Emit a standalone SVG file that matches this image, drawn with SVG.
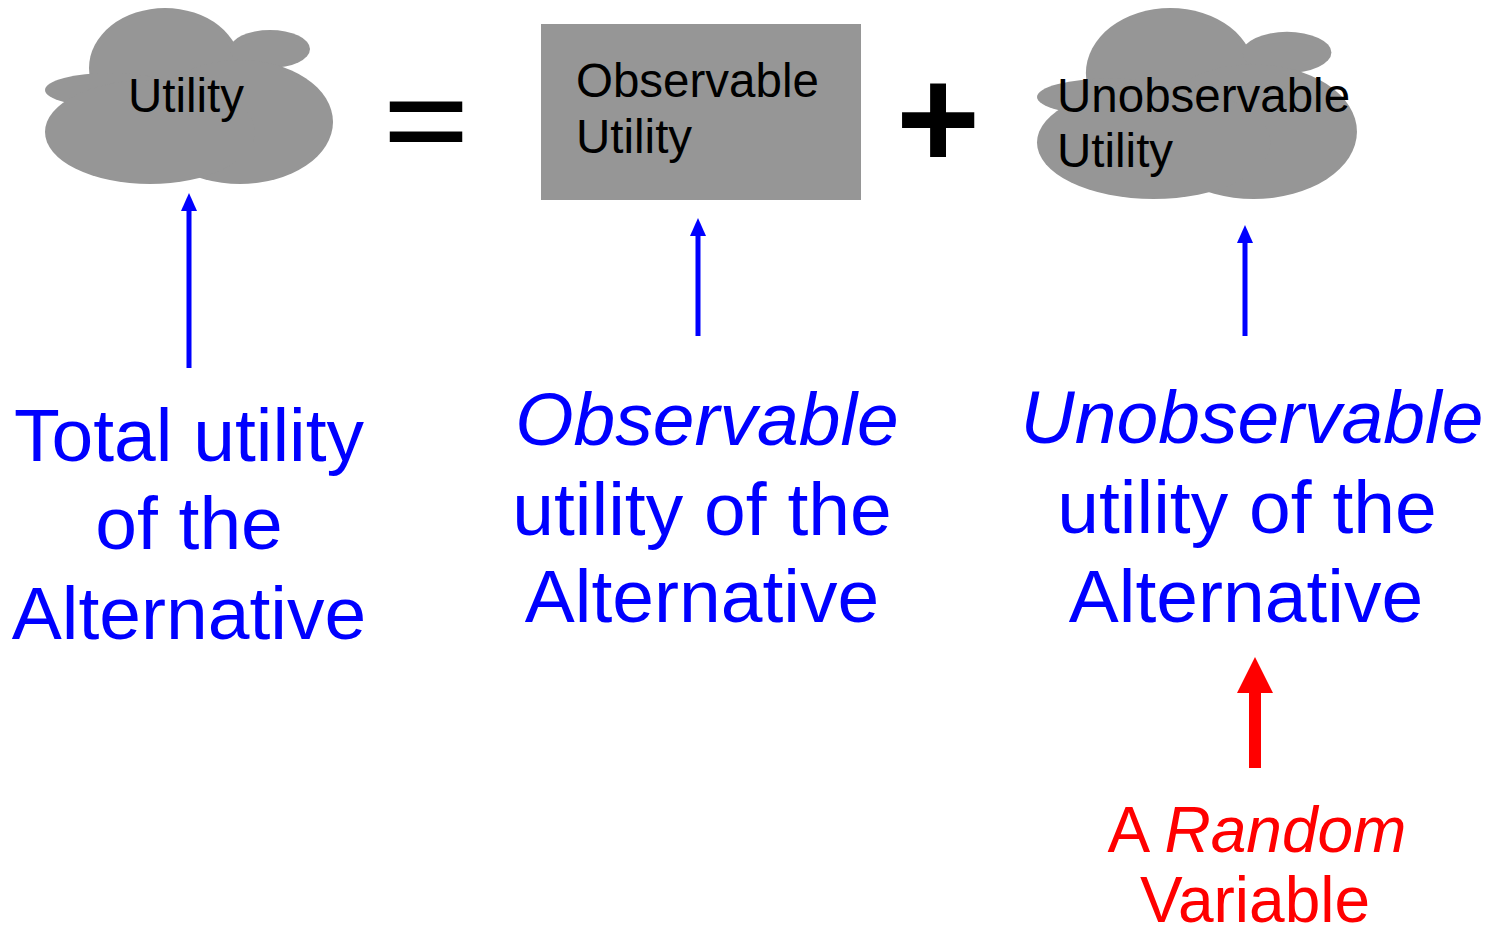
<svg xmlns="http://www.w3.org/2000/svg" width="1489" height="929" viewBox="0 0 1489 929">
  <style>
    text { font-family: "Liberation Sans", Arial, sans-serif; }
    .cloud { fill: #969696; }
    .box { fill: #969696; }
    .node-text { font-size: 47.5px; fill: #000000; }
    .op { font-size: 144px; fill: #000000; text-anchor: middle; }
    .bold { font-weight: bold; }
    .eq { stroke: #000000; stroke-width: 2.5; }
    .blue { font-size: 75px; fill: #0000ff; text-anchor: middle; }
    .red { font-size: 64px; fill: #ff0000; text-anchor: middle; }
    .it { font-style: italic; }
    .blue-line { stroke: #0000ff; stroke-width: 5; fill: none; }
    .red-line { stroke: #ff0000; stroke-width: 12; fill: none; }
  </style>
  <defs>
    <!-- cloud outline built from overlapping ellipses -->
    <g id="cloud-shape" class="cloud">
      <ellipse cx="165" cy="68" rx="76" ry="60"/>
      <ellipse cx="270" cy="49" rx="40" ry="19"/>
      <ellipse cx="240" cy="122" rx="93" ry="62"/>
      <ellipse cx="110" cy="90" rx="65" ry="17"/>
      <ellipse cx="150" cy="132" rx="105" ry="52"/>
    </g>
    <marker id="head-blue" viewBox="0 0 18 16" refX="0" refY="8" markerWidth="18" markerHeight="16" markerUnits="userSpaceOnUse" orient="auto">
      <path d="M0,0 L18,8 L0,16 z" fill="#0000ff"/>
    </marker>
    <marker id="head-red" viewBox="0 0 36 36" refX="0" refY="18" markerWidth="36" markerHeight="36" markerUnits="userSpaceOnUse" orient="auto">
      <path d="M0,0 L36,18 L0,36 z" fill="#ff0000"/>
    </marker>
  </defs>

  <!-- total utility cloud -->
  <g id="node-utility">
    <use href="#cloud-shape"/>
    <text class="node-text" x="186" y="112" text-anchor="middle">Utility</text>
  </g>

  <g id="op-equals">
    <text class="op eq" transform="translate(426,121.5) scale(1,0.82)" x="0" y="48">=</text>
  </g>

  <!-- observable part -->
  <g id="node-observable">
    <rect class="box" x="541" y="24" width="320" height="176"/>
    <text class="node-text" x="576" y="97">Observable</text>
    <text class="node-text" x="576" y="153">Utility</text>
  </g>

  <g id="op-plus">
    <text class="op bold" x="938" y="168">+</text>
  </g>

  <!-- unobservable part -->
  <g id="node-unobservable">
    <use href="#cloud-shape" transform="translate(987,-0.68) scale(1.111,1.085)"/>
    <text class="node-text" x="1057" y="112">Unobservable</text>
    <text class="node-text" x="1057" y="167">Utility</text>
  </g>

  <!-- explanatory labels -->
  <g id="label-total">
    <text class="blue" x="189" y="461">Total utility</text>
    <text class="blue" x="189" y="549">of the</text>
    <text class="blue" x="189" y="639">Alternative</text>
  </g>
  <g id="label-observable">
    <text class="blue it" x="707" y="445">Observable</text>
    <text class="blue" x="702" y="535">utility of the</text>
    <text class="blue" x="702" y="622">Alternative</text>
  </g>
  <g id="label-unobservable">
    <text class="blue it" x="1252" y="443">Unobservable</text>
    <text class="blue" x="1247" y="533">utility of the</text>
    <text class="blue" x="1246" y="622">Alternative</text>
  </g>
  <g id="label-random">
    <text class="red" x="1257" y="852">A <tspan class="it">Random</tspan></text>
    <text class="red" x="1255" y="922">Variable</text>
  </g>

  <!-- arrows -->
  <g id="connectors">
    <line class="blue-line" x1="189" y1="368" x2="189" y2="211" marker-end="url(#head-blue)"/>
    <line class="blue-line" x1="698" y1="336" x2="698" y2="236" marker-end="url(#head-blue)"/>
    <line class="blue-line" x1="1245" y1="336" x2="1245" y2="243" marker-end="url(#head-blue)"/>
    <line class="red-line" x1="1255" y1="768" x2="1255" y2="693" marker-end="url(#head-red)"/>
  </g>
</svg>
